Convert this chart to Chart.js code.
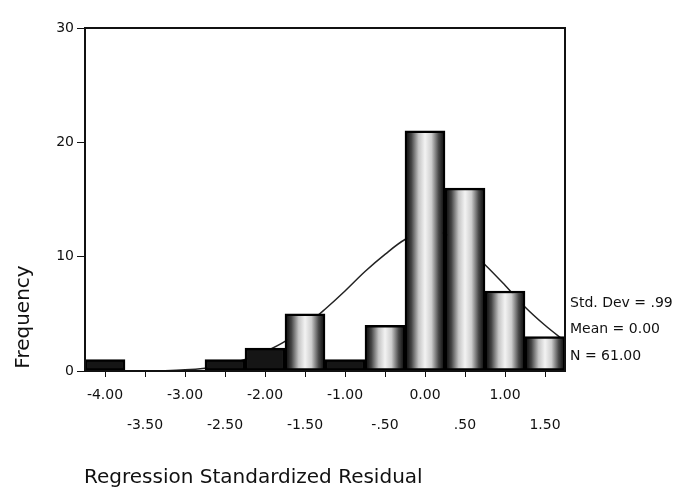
<!DOCTYPE html>
<html>
<head>
<meta charset="utf-8">
<script src="https://cdn.jsdelivr.net/npm/chart.js@4.4.1/dist/chart.umd.min.js"></script>
<style>
  body { margin: 0; background: #fff; }
  #wrap { width: 683px; height: 494px; }
</style>
</head>
<body>
<div id="wrap"><canvas id="myChart"></canvas></div>
<script>
'use strict';

// ********** DATA **********

let binCenters = [-4.0, -3.5, -3.0, -2.5, -2.0, -1.5, -1.0, -0.5, 0.0, 0.5, 1.0, 1.5];
let frequencies = [1, 0, 0, 1, 2, 5, 1, 4, 21, 16, 7, 3];

// normal curve
let curveX = [-4.25, -4.0, -3.75, -3.5, -3.25, -3.0, -2.75, -2.5, -2.25, -2.0, -1.75, -1.5, -1.25, -1.0, -0.75, -0.5, -0.25, 0.0, 0.25, 0.5, 0.75, 1.0, 1.25, 1.5, 1.75];
let curveY = [0, 0, 0, 0.01, 0.03, 0.1, 0.25, 0.5, 1.0, 1.7, 2.6, 3.9, 5.4, 7.0, 8.7, 10.2, 11.5, 12.2, 12.0, 10.9, 9.3, 7.5, 5.6, 4.0, 2.6];

let xTickValues = [-4.0, -3.5, -3.0, -2.5, -2.0, -1.5, -1.0, -0.5, 0.0, 0.5, 1.0, 1.5];
let xTickLabels = ['-4.00', '-3.50', '-3.00', '-2.50', '-2.00', '-1.50', '-1.00', '-.50', '0.00', '.50', '1.00', '1.50'];
let yTickValues = [0, 10, 20, 30];

let statLines = ['Std. Dev = .99', 'Mean = 0.00', 'N = 61.00'];
let xTitle = 'Regression Standardized Residual';
let yTitle = 'Frequency';

// ********** CHART **********

let ctx = document.getElementById('myChart').getContext('2d');
let fontFamily = '"DejaVu Sans", Arial, sans-serif';

// dark edges, pale middle, like the scanned SPSS bars
function barFill(context) {
  let chart = context.chart;
  let xScale = chart.scales.x;
  let i = context.dataIndex;
  if (!xScale || i === undefined) {
    return '#888';
  }
  if (frequencies[i] <= 2) {
    return '#151515';
  }
  let c = binCenters[i];
  let x0 = xScale.getPixelForValue(c - 0.25);
  let x1 = xScale.getPixelForValue(c + 0.25);
  let g = chart.ctx.createLinearGradient(x0, 0, x1, 0);
  g.addColorStop(0, '#000');
  g.addColorStop(0.16, '#444');
  g.addColorStop(0.34, '#c4c4c4');
  g.addColorStop(0.5, '#f3f3f3');
  g.addColorStop(0.66, '#cfcfcf');
  g.addColorStop(0.84, '#4a4a4a');
  g.addColorStop(1, '#000');
  return g;
}

let framePlugin = {
  id: 'frame',
  afterDraw(chart) {
    let c = chart.ctx;
    let a = chart.chartArea;
    c.save();
    c.strokeStyle = '#111';
    c.lineWidth = 2;
    c.strokeRect(a.left, a.top, a.right - a.left, a.bottom - a.top);

    c.fillStyle = '#111';
    c.textBaseline = 'middle';
    c.textAlign = 'left';
    c.font = '14px ' + fontFamily;
    c.fillText(statLines[0], 570, 303);
    c.fillText(statLines[1], 570, 329);
    c.fillText(statLines[2], 570, 356);

    c.font = '20px ' + fontFamily;
    c.fillText(xTitle, 84, 478);

    c.translate(24, 317);
    c.rotate(-Math.PI / 2);
    c.textAlign = 'center';
    c.fillText(yTitle, 0, 0);
    c.restore();
  }
};

let myChartObj = {
  type: 'bar',
  data: {
    datasets: [{
      type: 'line',
      data: curveX.map((x, i) => ({ x: x, y: curveY[i] })),
      borderColor: '#222',
      borderWidth: 1.5,
      pointRadius: 0,
      tension: 0.35,
      fill: false,
      order: 2
    },
    {
      type: 'bar',
      data: binCenters.map((x, i) => ({ x: x, y: frequencies[i] })),
      backgroundColor: barFill,
      borderColor: '#000',
      borderWidth: 2.5,
      borderSkipped: false,
      barPercentage: 1,
      categoryPercentage: 1,
      order: 1
    }]
  },
  options: {
    responsive: true,
    maintainAspectRatio: false,
    animation: false,
    layout: {
      padding: { left: 0, right: 118, top: 28, bottom: 0 }
    },
    plugins: {
      legend: { display: false },
      tooltip: { enabled: false }
    },
    scales: {
      x: {
        type: 'linear',
        min: -4.25,
        max: 1.75,
        offset: false,
        grid: { drawOnChartArea: false, drawTicks: true, tickLength: 6, color: '#111', offset: false },
        border: { color: '#111', width: 2 },
        afterBuildTicks(axis) {
          axis.ticks = xTickValues.map(v => ({ value: v }));
        },
        afterFit(scale) {
          scale.height = 123;
        },
        ticks: {
          autoSkip: false,
          maxRotation: 0,
          padding: 4,
          color: '#111',
          font: { family: fontFamily, size: 14, lineHeight: 2.1 },
          callback(value, index) {
            let label = xTickLabels[index];
            return index % 2 === 0 ? [label] : ['', label];
          }
        }
      },
      y: {
        min: 0,
        max: 30,
        grid: { drawOnChartArea: false, drawTicks: true, tickLength: 8, color: '#111' },
        border: { color: '#111', width: 2 },
        afterBuildTicks(axis) {
          axis.ticks = yTickValues.map(v => ({ value: v }));
        },
        afterFit(scale) {
          scale.width = 85;
        },
        ticks: {
          padding: 3,
          color: '#111',
          font: { family: fontFamily, size: 14 }
        }
      }
    }
  },
  plugins: [framePlugin]
};

new Chart(ctx, myChartObj);
</script>
</body>
</html>
